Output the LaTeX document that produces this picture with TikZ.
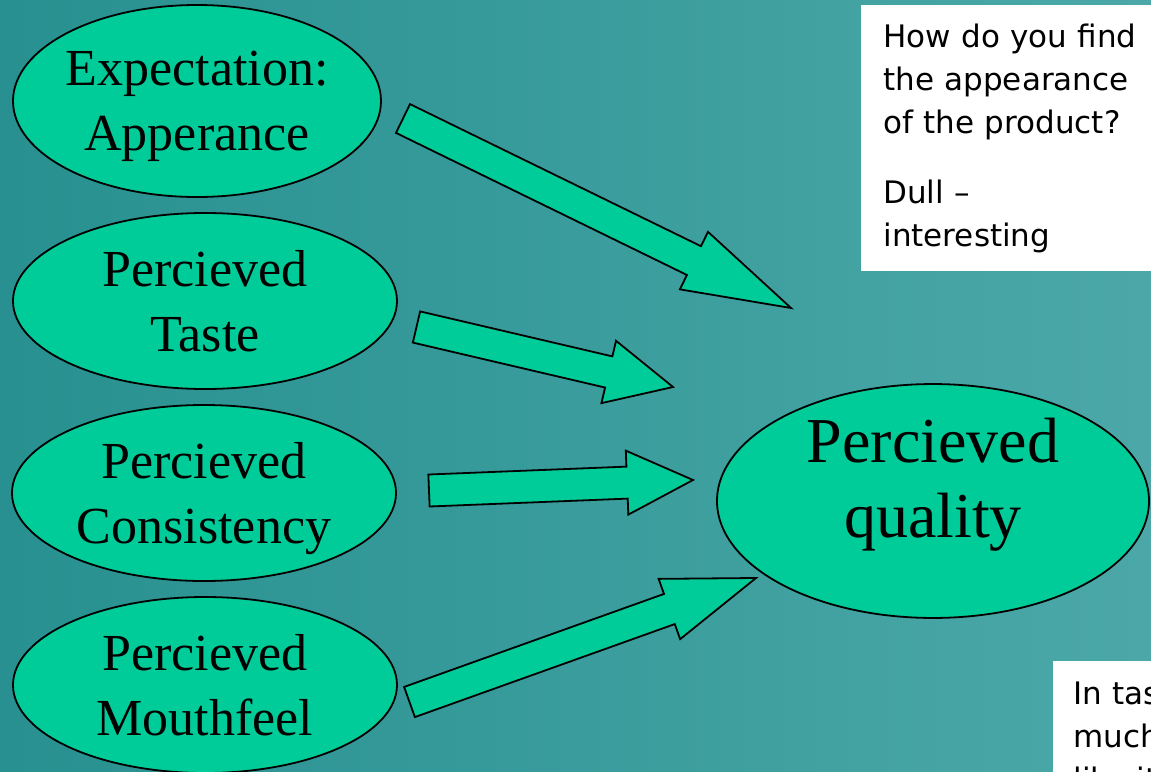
\documentclass[tikz,border=0pt]{standalone}
\usepackage{fontspec}
\setmainfont{Liberation Serif}
\newfontfamily\notefont{DejaVu Sans}
\usepackage{tikz}
\usetikzlibrary{calc}
\usetikzlibrary{positioning}
\usetikzlibrary{shapes.geometric}
\definecolor{bgleft}{RGB}{40,144,144}
\definecolor{bgright}{RGB}{76,168,168}
\definecolor{blob}{HTML}{00CC99}
\tikzset{
	blobnode/.style={ellipse,draw,line width=0.9pt,fill=blob,inner sep=0pt,align=center,text depth=0pt},
	smallblob/.style={blobnode,minimum width=192pt,minimum height=88pt,font=\fontsize{26}{32.5}\selectfont},
	blockarrow/.style={draw,line width=0.9pt,fill=blob,line join=miter},
	notebox/.style={rectangle,fill=white,anchor=north west,align=left,font=\notefont\fontsize{15.5}{21.5}\selectfont}
}
\newcommand{\blockarr}[3]{\draw[blockarrow] ($(#1)!8pt!90:(#2)$) -- ($(#2)!#3!(#1)!8pt!-90:(#1)$) -- ($(#2)!#3!(#1)!16pt!-90:(#1)$) -- (#2) -- ($(#2)!#3!(#1)!16pt!90:(#1)$) -- ($(#2)!#3!(#1)!8pt!90:(#1)$) -- ($(#1)!8pt!-90:(#2)$) -- cycle;}

\begin{document}
\begin{tikzpicture}[x=0.5pt,y=-0.5pt]
			\useasboundingbox (0,0) rectangle (1151,771);
			\clip (0,0) rectangle (1151,771);
			\shade[left color=bgleft,right color=bgright] (0,0) rectangle (1151,771);
			\path
			(197,101) node(exp) [smallblob,minimum width=184pt,minimum height=96pt,inner xsep=-1.2pt] {Expectation:\\Apperance}
			(205,301) node(taste) [smallblob] {Percieved\\Taste}
			(204,493) node(cons) [smallblob] {Percieved\\Consistency}
			(205,685) node(mouth) [smallblob] {Percieved\\Mouthfeel}
			(933,501) node(qual) [blobnode,minimum width=216pt,minimum height=96pt,text depth=23pt,font=\fontsize{32}{37.5}\selectfont] {Percieved\\quality};
			\path
			(861,5) node(askapp) [notebox,minimum height=133pt,text width=150pt,inner xsep=11pt] {How do you find\\the appearance\\of the product?\\[13.5pt]Dull \textendash\\interesting}
			(1053,661) node(asktaste) [notebox,text width=150pt,inner xsep=10pt,inner ysep=10pt] {In taste, how\\much do you\\like it?};
			\coordinate (tA) at (403,118.5);
			\coordinate (hA) at (791,308);
			\coordinate (tB) at (416.5,327);
			\coordinate (hB) at (673,387);
			\coordinate (tC) at (429,490.5);
			\coordinate (hC) at (693,480);
			\coordinate (tD) at (409.5,702);
			\coordinate (hD) at (756,578);
			\blockarr{tA}{hA}{54pt}
			\blockarr{tB}{hB}{33pt}
			\blockarr{tC}{hC}{33pt}
			\blockarr{tD}{hD}{46pt}
\end{tikzpicture}
\end{document}
